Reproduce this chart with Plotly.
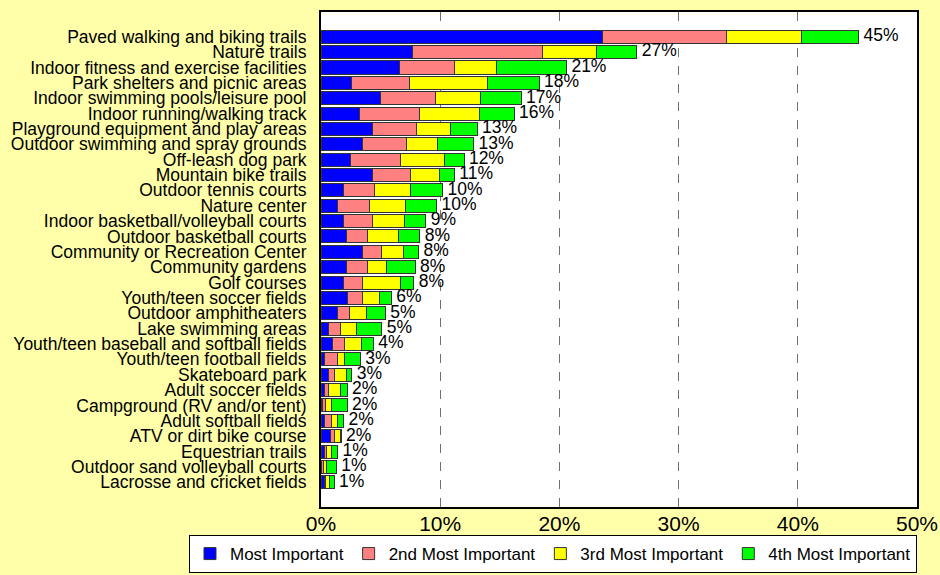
import plotly.graph_objs as go

categories = [
    "Paved walking and biking trails", "Nature trails", "Indoor fitness and exercise facilities",
    "Park shelters and picnic areas", "Indoor swimming pools/leisure pool", "Indoor running/walking track",
    "Playground equipment and play areas", "Outdoor swimming and spray grounds", "Off-leash dog park",
    "Mountain bike trails", "Outdoor tennis courts", "Nature center",
    "Indoor basketball/volleyball courts", "Outdoor basketball courts", "Community or Recreation Center",
    "Community gardens", "Golf courses", "Youth/teen soccer fields",
    "Outdoor amphitheaters", "Lake swimming areas", "Youth/teen baseball and softball fields",
    "Youth/teen football fields", "Skateboard park", "Adult soccer fields",
    "Campground (RV and/or tent)", "Adult softball fields", "ATV or dirt bike course",
    "Equestrian trails", "Outdoor sand volleyball courts", "Lacrosse and cricket fields",
]

most_important = [23.6, 7.7, 6.6, 2.6, 5.0, 3.2, 4.3, 3.5, 2.5, 4.3, 1.9, 1.4, 1.9, 2.1, 3.5,
                  2.1, 1.9, 2.2, 1.4, 0.6, 1.0, 0.3, 0.6, 0.3, 0.1, 0.3, 0.8, 0.3, 0.0, 0.3]
second_important = [10.4, 10.9, 4.6, 4.8, 4.6, 5.1, 3.7, 3.7, 4.2, 3.2, 2.6, 2.7, 2.4, 1.8, 1.6,
                    1.8, 1.6, 1.3, 1.0, 1.0, 1.0, 1.1, 0.5, 0.3, 0.3, 0.6, 0.3, 0.2, 0.2, 0.1]
third_important = [6.3, 4.5, 3.5, 6.6, 3.8, 5.0, 2.9, 2.6, 3.7, 2.4, 3.0, 3.0, 2.7, 2.6, 1.8,
                   1.6, 3.2, 1.4, 1.4, 1.4, 1.4, 0.6, 1.0, 1.0, 0.5, 0.5, 0.5, 0.4, 0.3, 0.3]
fourth_important = [4.8, 3.4, 5.9, 4.3, 3.4, 2.9, 2.2, 3.0, 1.6, 1.3, 2.7, 2.6, 1.8, 1.8, 1.3,
                    2.4, 1.1, 1.0, 1.6, 2.1, 1.0, 1.3, 0.5, 0.6, 1.3, 0.5, 0.1, 0.5, 0.8, 0.4]
total_labels = ["45%", "27%", "21%", "18%", "17%", "16%", "13%", "13%", "12%", "11%", "10%", "10%",
                "9%", "8%", "8%", "8%", "8%", "6%", "5%", "5%", "4%", "3%", "3%", "2%", "2%", "2%",
                "2%", "1%", "1%", "1%"]

series_names = ["Most Important", "2nd Most Important", "3rd Most Important", "4th Most Important"]
series_colors = ["#0000FF", "#FF8080", "#FFFF00", "#00FF00"]

FONT = "Liberation Sans, Arial, sans-serif"
BG = "#FFFFAA"

data = []
for name, vals, color in zip(series_names,
                             [most_important, second_important, third_important, fourth_important],
                             series_colors):
    data.append(go.Bar(
        y=categories,
        x=vals,
        name=name,
        orientation="h",
        marker=dict(color=color, line=dict(color="#333333", width=1)),
    ))

# total labels just right of each stacked bar
totals = [a + b + c + d for a, b, c, d in zip(most_important, second_important, third_important, fourth_important)]
data.append(go.Scatter(
    y=categories,
    x=totals,
    mode="text",
    text=total_labels,
    texttemplate=" %{text}",
    textposition="middle right",
    textfont=dict(size=17.5, color="black", family=FONT),
    showlegend=False,
    cliponaxis=False,
))

layout = go.Layout(
    width=940,
    height=575,
    barmode="stack",
    bargap=0.15,
    paper_bgcolor=BG,
    plot_bgcolor="white",
    font=dict(family=FONT, size=17.5, color="black"),
    margin=dict(l=321, r=23, t=12, b=68, autoexpand=False),
    xaxis=dict(
        range=[0, 50],
        tickvals=[0, 10, 20, 30, 40, 50],
        ticktext=["0%", "10%", "20%", "30%", "40%", "50%"],
        tickfont=dict(size=21),
        showgrid=True,
        gridcolor="#707070",
        griddash="dash",
        gridwidth=1,
        showline=True,
        linecolor="black",
        linewidth=2,
        mirror=True,
        zeroline=False,
        ticks="",
        ticklabelstandoff=-3,
        automargin=False,
        fixedrange=True,
    ),
    yaxis=dict(
        autorange="reversed",
        tickmode="array",
        tickvals=categories,
        ticktext=categories,
        tickfont=dict(size=17.5),
        showline=True,
        linecolor="black",
        linewidth=2,
        mirror=True,
        ticks="",
        ticklabelstandoff=9,
        showgrid=False,
        automargin=False,
        fixedrange=True,
    ),
    legend=dict(
        orientation="h",
        traceorder="normal",
        x=-0.2215,
        xanchor="left",
        y=-0.0566,
        yanchor="top",
        bgcolor="white",
        bordercolor="black",
        borderwidth=1,
        font=dict(size=17),
        itemwidth=30,
    ),
    showlegend=True,
)

fig = go.Figure(data=data, layout=layout)
fig.write_html("out.html", config={"displayModeBar": False},
               post_script="document.body.style.margin='0';document.body.style.background='%s';" % BG)
